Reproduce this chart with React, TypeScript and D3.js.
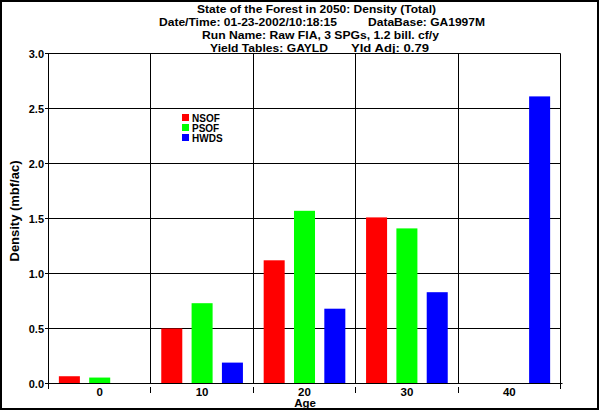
import React from "react";
import * as d3 from "d3";

const categories = ["0", "10", "20", "30", "40"];
const seriesNames = ["NSOF", "PSOF", "HWDS"];
const seriesColors = ["#ff0000", "#00ff00", "#0000ff"];
const nsof = [0.066, 0.5, 1.12, 1.51, 0];
const psof = [0.054, 0.73, 1.57, 1.41, 0];
const hwds = [0, 0.19, 0.68, 0.83, 2.61];
const yTicks = [0, 0.5, 1.0, 1.5, 2.0, 2.5, 3.0];
const titleLines = [
  ["State of the Forest in 2050: Density (Total)"],
  ["Date/Time: 01-23-2002/10:18:15", "DataBase: GA1997M"],
  ["Run Name: Raw FIA, 3 SPGs, 1.2 bill. cf/y"],
  ["Yield Tables: GAYLD", "Yld Adj: 0.79"],
];
const yLabel = "Density (mbf/ac)";
const xLabel = "Age";

const W = 600;
const H = 411;
const FONT = "'Liberation Sans', Arial, Helvetica, sans-serif";

export default function App() {
  const series = [nsof, psof, hwds];
  const left = 48.5, right = 560.5, top = 53.5, bottom = 383.5;
  const x = d3.scaleBand<string>().domain(categories).range([left, right]);
  const inner = d3
    .scaleBand<string>()
    .domain(seriesNames)
    .range([0, x.bandwidth()])
    .paddingInner(0.307)
    .paddingOuter(0.342);
  const y = d3.scaleLinear().domain([0, 3]).range([bottom, top]);
  const crisp = (v: number) => Math.round(v - 0.5) + 0.5;
  const bounds = categories.map((c) => x(c)!).concat([right]).map(crisp);

  const titleSpecs = [
    [{ x: 197, w: 239 }],
    [{ x: 159, w: 178 }, { x: 368, w: 117 }],
    [{ x: 202, w: 237 }],
    [{ x: 210, w: 118 }, { x: 351, w: 78 }],
  ];
  const titleY = [13, 26, 39, 51.5];

  return (
    <svg
      width={W}
      height={H}
      style={{ position: "absolute", left: 0, top: 0, display: "block", background: "#fff" }}
      fontFamily={FONT}
      fontWeight="bold"
    >
      <rect x={0} y={0} width={W} height={H} fill="#fff" />
      <rect x={1} y={1} width={597} height={408} fill="none" stroke="#000" strokeWidth={2} />

      {titleLines.map((parts, i) =>
        parts.map((t, j) => (
          <text
            key={`t${i}${j}`}
            x={titleSpecs[i][j].x}
            y={titleY[i]}
            fontSize={11.5}
            textLength={titleSpecs[i][j].w}
            lengthAdjust="spacingAndGlyphs"
          >
            {t}
          </text>
        ))
      )}

      {yTicks.map((t) => (
        <g key={`y${t}`}>
          <line x1={45} x2={right} y1={crisp(y(t))} y2={crisp(y(t))} stroke="#000" strokeWidth={1} />
          <text x={44} y={y(t) + 4} fontSize={11} textAnchor="end">
            {t.toFixed(1)}
          </text>
        </g>
      ))}

      {bounds.map((b, i) => (
        <line key={`v${i}`} x1={b} x2={b} y1={top} y2={bottom} stroke="#000" strokeWidth={1} />
      ))}

      {categories.map((c, ci) =>
        series.map((s, si) =>
          s[ci] > 0 ? (
            <rect
              key={`b${ci}${si}`}
              x={x(c)! + inner(seriesNames[si])!}
              y={y(s[ci])}
              width={inner.bandwidth()}
              height={y(0) - y(s[ci])}
              fill={seriesColors[si]}
            />
          ) : null
        )
      )}

      <line x1={left} x2={right + 2} y1={crisp(y(0))} y2={crisp(y(0))} stroke="#000" strokeWidth={1} />
      {bounds.map((b, i) =>
        i === 0 || i === bounds.length - 1 ? (
          <line key={`xt${i}`} x1={b} x2={b} y1={bottom} y2={389} stroke="#000" strokeWidth={1} />
        ) : (
          <line key={`xt${i}`} x1={b} x2={b} y1={387} y2={393} stroke="#000" strokeWidth={1} />
        )
      )}
      {categories.map((c) => (
        <text key={`xl${c}`} x={x(c)! + x.bandwidth() / 2} y={395.5} fontSize={11.5} textAnchor="middle">
          {c}
        </text>
      ))}
      <text x={305} y={407} fontSize={11.5} textAnchor="middle">
        {xLabel}
      </text>
      <text
        transform={`translate(18.5,211) rotate(-90)`}
        fontSize={12}
        textAnchor="middle"
        textLength={101}
        lengthAdjust="spacingAndGlyphs"
      >
        {yLabel}
      </text>

      {seriesNames.map((n, i) => (
        <g key={`lg${n}`}>
          <rect x={182} y={114 + i * 10} width={7} height={7} fill={seriesColors[i]} />
          <text x={192} y={121.5 + i * 10} fontSize={10}>
            {n}
          </text>
        </g>
      ))}
    </svg>
  );
}
